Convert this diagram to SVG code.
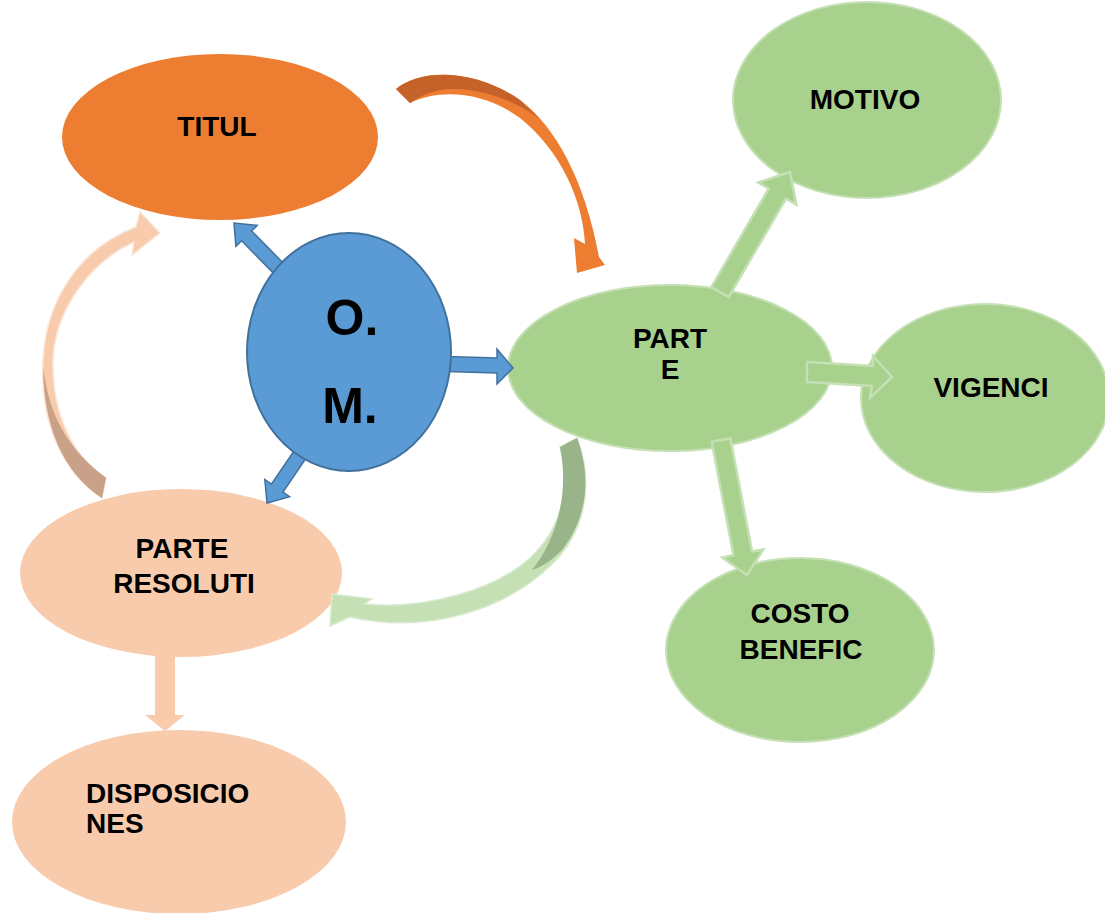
<svg xmlns="http://www.w3.org/2000/svg" width="1105" height="913" viewBox="0 0 1105 913">
<style>
.t{font-family:"Liberation Sans",Arial,sans-serif;font-weight:bold;font-size:28px;fill:#000}
.c{text-anchor:middle}
.big{font-size:50px}
.green{fill:#A9D18E;stroke:#C5E0B4;stroke-width:2}
.peach{fill:#F8CBAD}
.blueA{fill:#5B9BD5;stroke:#41719C;stroke-width:1.5;stroke-linejoin:miter}
.greenA{fill:#A9D18E;stroke:#C5E0B4;stroke-width:2.5}
</style>
<rect width="1105" height="913" fill="#FFFFFF"/>
<g id="titul">
<ellipse cx="220" cy="137" rx="158" ry="83" fill="#ED7D31"/>
<text class="t c" x="217" y="136">TITUL</text>
</g>
<g id="parte">
<ellipse cx="670" cy="368" rx="162" ry="83" class="green"/>
<text class="t c" x="670" y="348">PART</text>
<text class="t c" x="670" y="379">E</text>
</g>
<g id="motivo">
<ellipse cx="867" cy="100" rx="134" ry="98" class="green"/>
<text class="t c" x="865" y="109">MOTIVO</text>
</g>
<g id="vigenci">
<ellipse cx="985" cy="398" rx="124" ry="94" class="green"/>
<text class="t c" x="991" y="397">VIGENCI</text>
</g>
<g id="costo">
<ellipse cx="800" cy="650" rx="134" ry="92" class="green"/>
<text class="t c" x="800" y="623">COSTO</text>
<text class="t c" x="801" y="659">BENEFIC</text>
</g>
<g id="parte-resoluti">
<ellipse cx="181" cy="573" rx="161" ry="84" class="peach"/>
<text class="t c" x="182" y="558">PARTE</text>
<text class="t c" x="184" y="593">RESOLUTI</text>
</g>
<g id="disposiciones">
<ellipse cx="179" cy="822" rx="167" ry="92" class="peach"/>
<text class="t" x="86" y="803">DISPOSICIO</text>
<text class="t" x="86" y="833">NES</text>
</g>
<g id="connectors">
<polygon class="blueA" points="295,275 251.6,231 257.3,225.4 234,223 235.9,246.4 241.6,240.8 285,285"/>
<polygon class="blueA" points="430,356 497,358 497,349 513,368 497,384 497,373 430,371"/>
<polygon class="blueA" points="315.8,443.9 283,492.1 289.6,496.6 267,503 264.8,479.6 271.4,484.2 304.2,436.1"/>
<polygon class="greenA" points="728.6,297 786,198.6 796.4,204.7 790,172 758.4,182.5 768.8,188.6 711.4,287"/>
<polygon class="greenA" stroke="#D5E8C8" stroke-width="3" points="807,362 873,366 873,356 892,377 870,398 872,386 807,382"/>
<polygon class="greenA" points="730.3,438.2 752.1,551.6 763.4,549.4 747,575 722.2,557.4 733.5,555.2 711.7,441.8"/>
<polygon fill="#F8CBAD" points="155,655 175,655 175,715 185,715 165,731 145,715 155,715"/>
<path fill="#ED7D31" d="M396,89 C425,66 480,72 520,100 C555,126 585,180 599,257 L605,265 L577,273 L574,238 L585,244 C583,200 560,150 520,118 C485,92 440,88 410,103 Z"/>
<path fill="#C5622A" d="M396,89 C425,66 480,72 520,100 L540,119 C515,100 480,88 450,89 C432,90 420,96 410,103 Z"/>
<path fill="#F8CBAD" stroke="#FBE5D6" stroke-width="1.5" d="M102,498 C60,470 40,420 43,360 C46,300 80,248 136,227 L140,212 L160,233 L132,255 L134,242 C90,262 55,310 53,360 C52,410 70,455 106,478 Z"/>
<path fill="#C9A188" d="M102,498 C62,472 44,425 43,368 C48,400 56,440 106,478 Z"/>
<path fill="#C5E0B4" stroke="#D9EBCF" stroke-width="1.5" d="M577,438 C595,485 585,535 548,568 C505,608 430,635 350,617 L330,626 L332,594 L372,599 L364,604 C425,610 495,590 530,558 C560,530 572,490 560,447 Z"/>
<path fill="#9AB48A" d="M560,447 L577,438 C592,478 587,518 562,550 C552,560 542,567 532,570 C555,542 570,495 560,447 Z"/>
</g>
<g id="om">
<ellipse cx="349" cy="352" rx="102" ry="119" fill="#5B9BD5" stroke="#41719C" stroke-width="2"/>
<text class="t c big" x="352" y="335">O.</text>
<text class="t c big" x="350" y="423">M.</text>
</g>
</svg>
